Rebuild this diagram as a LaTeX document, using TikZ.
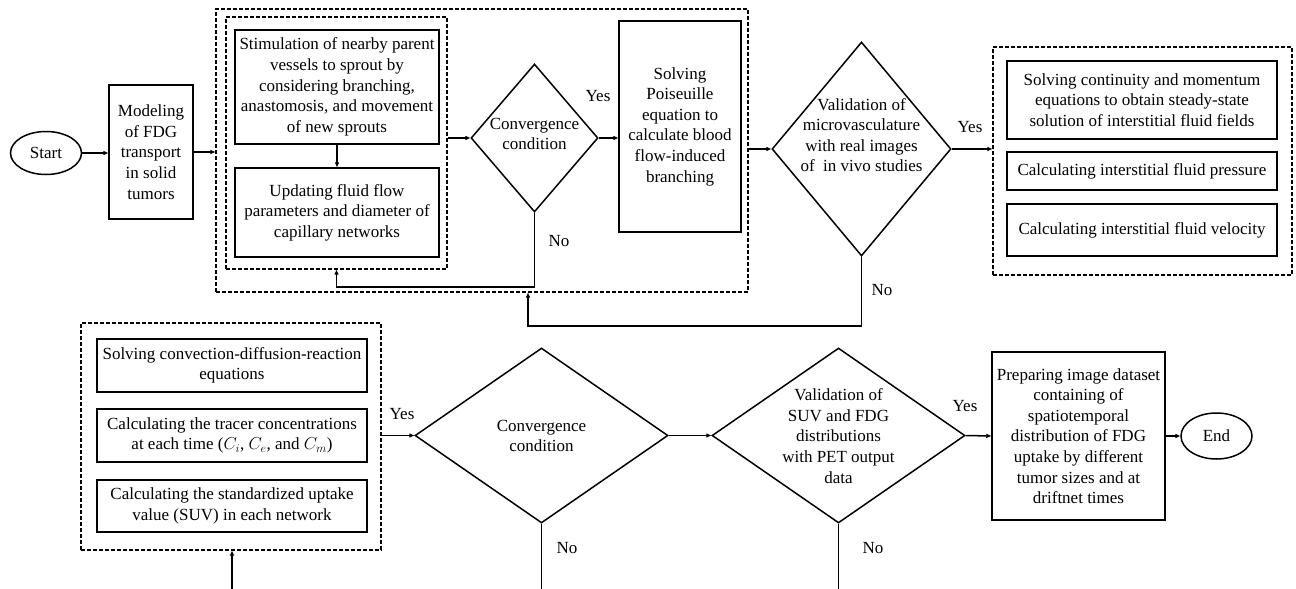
\documentclass[tikz,border=0pt]{standalone}
\usepackage{fontspec}
\setmainfont{Liberation Serif}
\usetikzlibrary{shapes.geometric,arrows.meta,calc}
\begin{document}
\begin{tikzpicture}[x=1pt,y=1pt,
  font=\fontsize{17}{20.6}\selectfont,
  box/.style={draw, line width=1.5pt, rectangle, inner sep=2pt, align=center},
  dbox/.style={draw, line width=1.4pt, dash pattern=on 4pt off 2pt, rectangle, inner sep=0pt},
  dia/.style={draw, diamond, line width=1.5pt, inner sep=0pt},
  term/.style={draw, ellipse, line width=1.5pt, inner sep=0pt},
  txt/.style={align=center, inner sep=0pt},
  lbl/.style={inner sep=0pt},
  ln/.style={line width=1.5pt},
  arr/.style={line width=1.5pt, -{Triangle[length=5pt,width=4pt]}}]
\useasboundingbox (0,0) rectangle (1296,-589);

% top row
\node[term, minimum width=71pt, minimum height=43pt] (start) at (46,-153) {Start};
\node[box, minimum width=84pt, minimum height=134pt] (model) at (151,-152) {Modeling\\of FDG\\transport\\in solid\\tumors};
\node[dbox, minimum width=532pt, minimum height=283pt] (outer) at (482,-150.5) {};
\node[dbox, minimum width=221pt, minimum height=252pt] (inner) at (336.5,-143) {};
\node[box, minimum width=204pt, minimum height=114pt] (stim) at (337,-87) {Stimulation of nearby parent\\vessels to sprout by\\considering branching,\\anastomosis, and movement\\of new sprouts};
\node[box, minimum width=204pt, minimum height=89pt] (upd) at (337,-212.5) {Updating fluid flow\\parameters and diameter of\\capillary networks};
\node[dia, minimum width=127pt, minimum height=148pt] (conv1) at (534.5,-138) {};
\node[txt] (conv1t) at (534.5,-134) {Convergence\\condition};
\node[box, minimum width=122pt, minimum height=211pt] (solv) at (680,-126.5) {Solving\\Poiseuille\\equation to\\calculate blood\\flow-induced\\branching};
\node[dia, minimum width=179pt, minimum height=214pt] (val1) at (861.5,-149) {};
\node[txt] (val1t) at (861.5,-135) {Validation of\\microvasculature\\with real images\\of \ in vivo studies};
\node[dbox, minimum width=299pt, minimum height=228pt] (rdash) at (1142.5,-161) {};
\node[box, minimum width=270pt, minimum height=78pt] (r1) at (1142,-100) {Solving continuity and momentum\\equations to obtain steady-state\\solution of interstitial fluid fields};
\node[box, minimum width=270pt, minimum height=38pt] (r2) at (1142,-171) {Calculating interstitial fluid pressure};
\node[box, minimum width=270pt, minimum height=52pt] (r3) at (1142,-230) {Calculating interstitial fluid velocity};

% bottom row
\node[dbox, minimum width=300pt, minimum height=227pt] (bdash) at (231,-436.5) {};
\node[box, minimum width=270pt, minimum height=53pt] (b1) at (232,-365.5) {Solving convection-diffusion-reaction\\equations};
\node[box, minimum width=270pt, minimum height=53pt] (b2) at (232,-435.5) {Calculating the tracer concentrations\\at each time ($C_i$, $C_e$, and $C_m$)};
\node[box, minimum width=270pt, minimum height=52pt] (b3) at (232,-506) {Calculating the standardized uptake\\value (SUV) in each network};
\node[dia, minimum width=253pt, minimum height=175pt] (conv2) at (541.5,-435.5) {};
\node[txt] (conv2t) at (541.5,-436) {Convergence\\condition};
\node[dia, minimum width=253pt, minimum height=175pt] (val2) at (838.5,-435.5) {};
\node[txt] (val2t) at (838.5,-436) {Validation of\\SUV and FDG\\distributions\\with PET output\\data};
\node[box, minimum width=173pt, minimum height=168pt] (prep) at (1078.5,-436) {Preparing image dataset\\containing of\\spatiotemporal\\distribution of FDG\\uptake by different\\tumor sizes and at\\driftnet times};
\node[term, minimum width=71pt, minimum height=46pt] (end) at (1216.5,-436) {End};
\coordinate (bin) at (232,-589);

% connectors top
\draw[arr] (start.east) -- (start.east -| model.west);
\draw[arr] (model.east) -- (model.east -| outer.west);
\draw[arr] (stim.south) -- (upd.north);
\draw[arr] (conv1.west -| inner.east) -- (conv1.west);
\draw[arr] (conv1.east) -- (conv1.east -| solv.west);
\draw[arr] (val1.west -| outer.east) -- (val1.west);
\draw[arr] (val1.east) -- (val1.east -| rdash.west);
\draw[arr] (conv1.south) -- ++(0,-74) -| (inner.south);
\draw[arr] (val1.south) -- ++(0,-69) -| ([xshift=46pt]outer.south);

% connectors bottom
\draw[arr] (bin) -- (bin |- bdash.south);
\draw[arr] (conv2.west -| bdash.east) -- (conv2.west);
\draw[arr] (conv2.east) -- (val2.west);
\draw[arr] (val2.east) -- (prep.west);
\draw[arr] (prep.east) -- (end.west);
\draw[ln] (conv2.south) -- (conv2.south |- bin);
\draw[ln] (val2.south) -- (val2.south |- bin);

% labels
\node[lbl] at (598,-96) {Yes};
\node[lbl] at (559,-241) {No};
\node[lbl] at (970,-127) {Yes};
\node[lbl] at (882,-290) {No};
\node[lbl] at (402,-414) {Yes};
\node[lbl] at (567,-548) {No};
\node[lbl] at (873,-548) {No};
\node[lbl] at (965,-406) {Yes};
\end{tikzpicture}
\end{document}
